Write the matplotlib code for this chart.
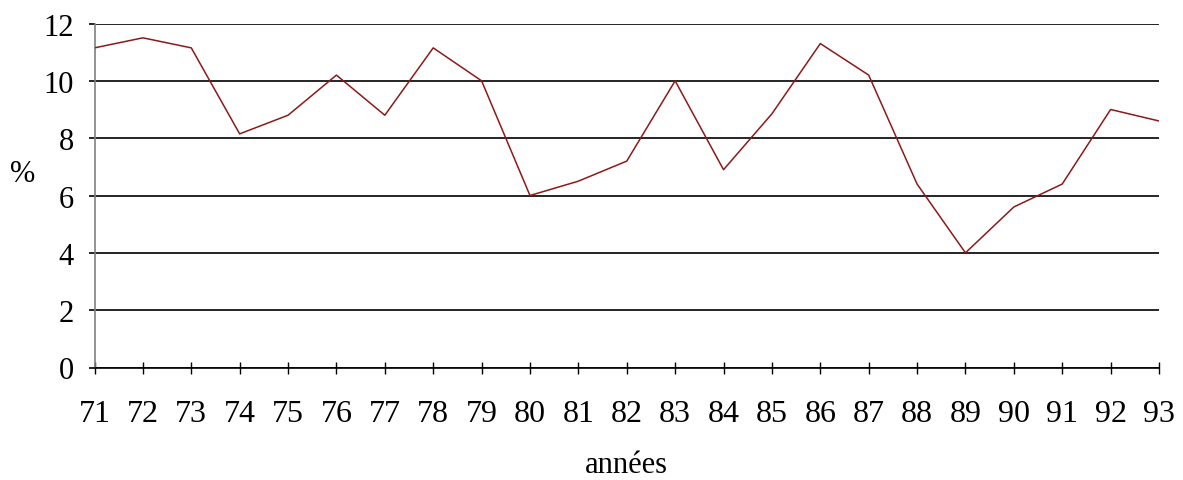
import matplotlib
matplotlib.use("Agg")
import matplotlib.pyplot as plt

# annual rate, 1971-1993
years = ["71", "72", "73", "74", "75", "76", "77", "78", "79", "80", "81", "82",
         "83", "84", "85", "86", "87", "88", "89", "90", "91", "92", "93"]
rates = [11.15, 11.5, 11.15, 8.15, 8.8, 10.2, 8.8, 11.15, 10.0, 6.0, 6.5, 7.2,
         10.0, 6.9, 8.85, 11.3, 10.2, 6.4, 4.0, 5.6, 6.4, 9.0, 8.6]
y_ticks = [0, 2, 4, 6, 8, 10, 12]

plt.rcParams['font.family'] = ['Liberation Serif', 'DejaVu Serif']

fig = plt.figure(figsize=(11.83, 4.81), dpi=100)
ax = fig.add_axes([94.5 / 1183, 1 - 368.5 / 481, 1064.5 / 1183, 344 / 481])

x = list(range(len(years)))
ax.plot(x, rates, color="#8b1a1a", linewidth=1.1, zorder=3)

ax.set_xlim(0, len(years) - 1)
ax.set_ylim(0, 12)
ax.set_xticks(x)
ax.set_xticklabels(years, fontsize=23)
ax.set_yticks(y_ticks)
ax.set_yticklabels([str(v) for v in y_ticks], fontsize=22)

ax.grid(axis="y", color="black", linewidth=1.2)
ax.set_axisbelow(True)
for side in ("top", "right"):
    ax.spines[side].set_visible(False)
ax.spines["left"].set_color("#808080")
ax.spines["left"].set_linewidth(1.2)
ax.spines["bottom"].set_color("black")
ax.spines["bottom"].set_linewidth(1.2)

ax.tick_params(axis="x", direction="inout", length=8, width=1.0, pad=19)
ax.tick_params(axis="y", direction="out", length=4, width=1.2, pad=11)

ax.set_xlabel("années", fontsize=22, va="center")
ax.xaxis.set_label_coords(0.5, (368.5 - 466) / 344)
ax.set_ylabel("%", fontsize=22, rotation=0, va="center", ha="center")
ax.yaxis.set_label_coords((23 - 94.5) / 1064.5, (368.5 - 174) / 344)

fig.savefig("out.png", dpi=100)
